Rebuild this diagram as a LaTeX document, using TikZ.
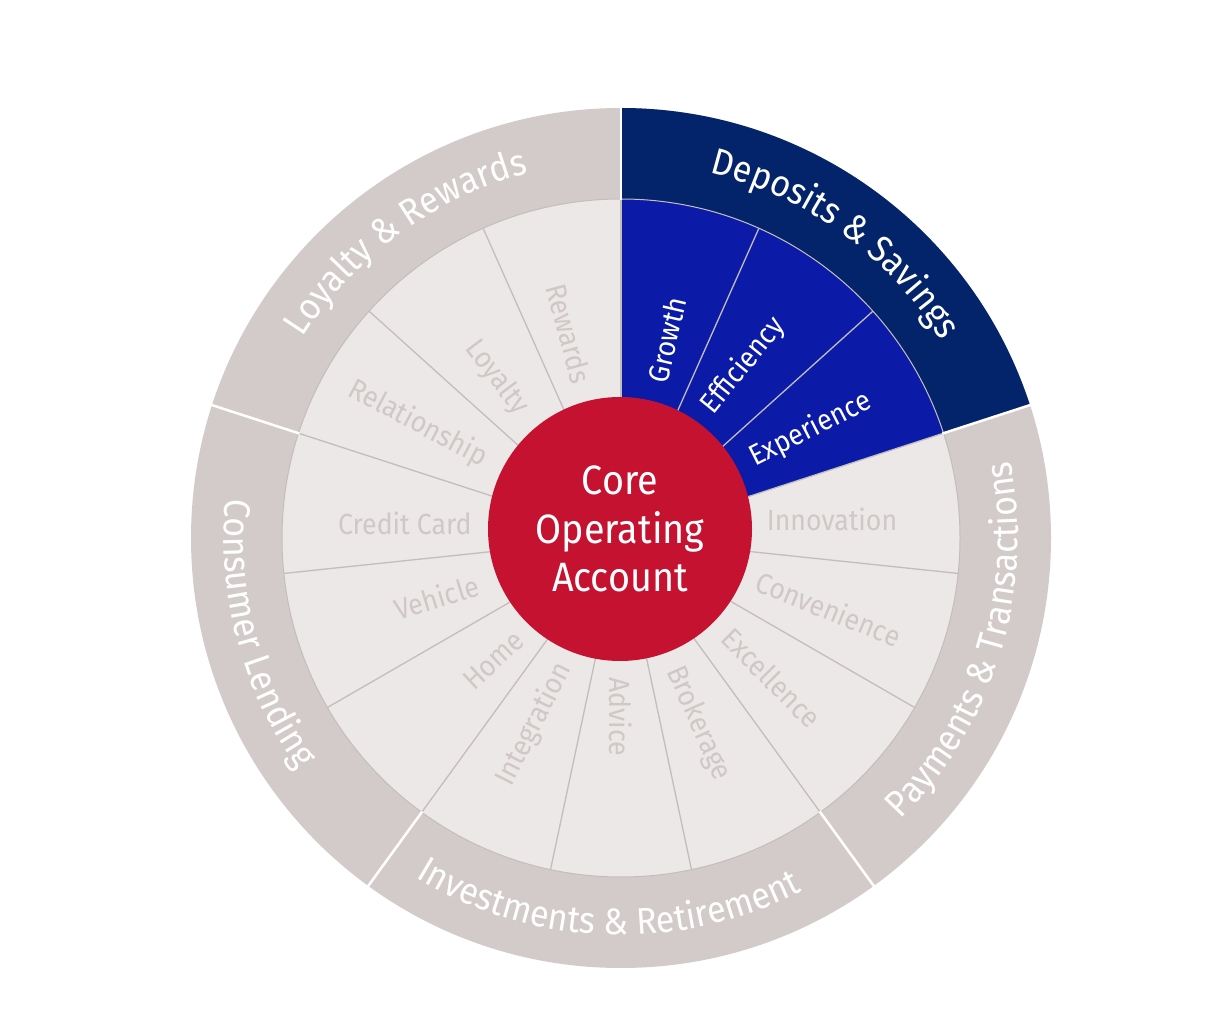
\documentclass[tikz,border=0pt]{standalone}
\usepackage{fontspec}
\setmainfont{Fira Sans}[FakeStretch=0.92]
\usetikzlibrary{decorations.text}
\definecolor{navy}{HTML}{03246B}
\definecolor{royal}{HTML}{0B1BA8}
\definecolor{corered}{HTML}{C41230}
\definecolor{band}{HTML}{D2CBC9}
\definecolor{innerfill}{HTML}{ECE8E7}
\definecolor{lbl}{HTML}{CFC8C6}
\definecolor{divider}{HTML}{C3BDBB}
\newcommand\bandfont{\fontsize{37}{44}\selectfont}
\begin{document}
\begin{tikzpicture}[x=1pt,y=1pt,
  sublabel/.style={font=\fontsize{29}{34}\selectfont, inner sep=0pt},
  bandtext/.style={decorate, decoration={text along path, text align=center, text={#1}}}]
\useasboundingbox (0,0) rectangle (1218,1018);
\begin{scope}[shift={(621,480)}]
  % outer band
  \fill[band] (0,0) circle[radius=430pt];
  \fill[navy] (90:430pt) arc[start angle=90,end angle=18,radius=430pt] -- (18:339pt) arc[start angle=18,end angle=90,radius=339pt] -- cycle;
  % inner ring
  \fill[innerfill] (0,0) circle[radius=339pt];
  \fill[royal] (0,0) -- (90:339pt) arc[start angle=90,end angle=18,radius=339pt] -- cycle;
  \draw[divider,line width=1pt] (0,0) circle[radius=339pt];
  \foreach \a in {90,66,...,-246} \draw[divider,line width=1.3pt] (0,0) -- (\a:339pt);
  \foreach \a in {90,18,-54,-126,-198} \draw[white,line width=2.5pt] (\a:338pt) -- (\a:431pt);
  % centre
  \node[circle, fill=corered, minimum size=264pt, inner sep=0pt, text=white, align=center,
        font=\fontsize{41}{48.5}\selectfont] (core) at (-1,9) {Core\\Operating\\Account};
  % sub labels, right half (inner end anchored)
  \foreach \a/\r/\o/\t/\c [count=\i] in {77/160/77/Growth/white, 56/154/51/Efficiency/white,
      31/152/27/Experience/white, 7.4/147/0/Innovation/lbl, -17/143/-22/Convenience/lbl,
      -42/142/-45/Excellence/lbl, -68/140/-66/Brokerage/lbl, -90/139/-90/Advice/lbl}
    \node[sublabel, text=\c, rotate=\o, anchor=west] (r\i) at (\a:\r pt) {\t};
  % sub labels, left half (inner end anchored)
  \foreach \a/\r/\o/\t [count=\i] in {-114/139/63/Integration, -136/141/43/Home,
      -162/150/17/Vehicle, 174.3/150/0/Credit Card, 150/157/-28/Relationship,
      128/160/-53/Loyalty, 104/160/-75/Rewards}
    \node[sublabel, text=lbl, rotate=\o, anchor=east] (l\i) at (\a:\r pt) {\t};
  % band labels
  \path[bandtext={|\bandfont\color{white}|Deposits {\&} Savings}] (90:376pt) arc[start angle=90,end angle=18,radius=376pt];
  \path[bandtext={|\bandfont\color{white}|Loyalty {\&} Rewards}] (162:376pt) arc[start angle=162,end angle=90,radius=376pt];
  \path[bandtext={|\bandfont\color{white}|Payments {\&} Transactions}] (-53:397pt) arc[start angle=-53,end angle=19,radius=397pt];
  \path[bandtext={|\bandfont\color{white}|Investments {\&} Retirement}] (-128:397pt) arc[start angle=-128,end angle=-56,radius=397pt];
  \path[bandtext={|\bandfont\color{white}|Consumer Lending}] (159:397pt) arc[start angle=159,end angle=231,radius=397pt];
\end{scope}
\end{tikzpicture}
\end{document}
